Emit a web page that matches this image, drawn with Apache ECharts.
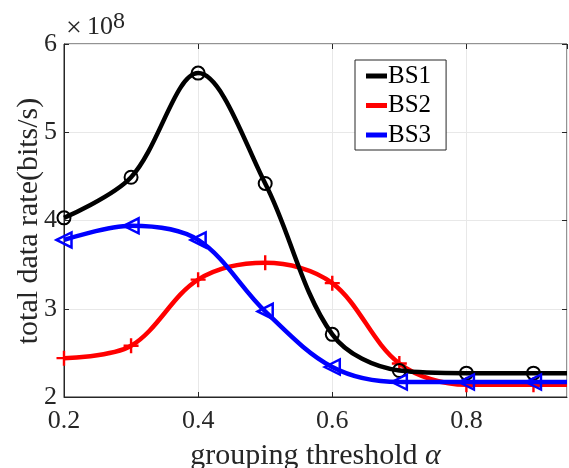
<!DOCTYPE html>
<html><head><meta charset="utf-8">
<script src="https://cdn.jsdelivr.net/npm/echarts@6/dist/echarts.min.js"></script>
<style>html,body{margin:0;padding:0;background:#fff}#c{width:569px;height:468px}</style>
</head><body><div id="c"></div>
<script>
const xs = [0.2, 0.3, 0.4, 0.5, 0.6, 0.7, 0.8, 0.9];
const bs1 = [4.03, 4.49, 5.67, 4.42, 2.71, 2.30, 2.27, 2.27];
const bs2 = [2.44, 2.58, 3.33, 3.52, 3.29, 2.38, 2.14, 2.14];
const bs3 = [3.78, 3.94, 3.78, 2.97, 2.34, 2.17, 2.17, 2.17];
const tailX = 0.95;
const tail1 = 2.27, tail2 = 2.14, tail3 = 2.17;
const names = ['BS1', 'BS2', 'BS3'];
const colors = ['#000000', '#ff0000', '#0000ff'];
const yName = 'total data rate(bits/s)';

const font = '"Liberation Serif", "DejaVu Serif", serif';
function mk(vals, tail) {
  const d = xs.map((x, i) => [x, vals[i]]);
  d.push({ value: [tailX, tail], symbol: 'none' });
  return d;
}
const plusPath = 'path://M4.2,0H5.8V4.2H10V5.8H5.8V10H4.2V5.8H0V4.2H4.2Z';
const tickStyle = { show: true, inside: true, length: 5, lineStyle: { color: '#262626' } };

const chart = echarts.init(document.getElementById('c'), null, { renderer: 'canvas' });
chart.setOption({
  animation: false,
  backgroundColor: '#fff',
  textStyle: { fontFamily: font },
  grid: { left: 64, right: 2, top: 44, bottom: 71, containLabel: false, outerBoundsMode: 'none',
    show: true, borderColor: '#262626', borderWidth: 1, backgroundColor: 'transparent' },
  xAxis: [{
    type: 'value', min: 0.2, max: 0.95, interval: 0.2,
    name: 'grouping threshold {a|α}', nameLocation: 'middle', nameGap: 44,
    nameTextStyle: { fontFamily: font, fontSize: 30, color: '#262626', rich: { a: { fontFamily: font, fontSize: 30, fontStyle: 'italic', color: '#262626' } } },
    axisLine: { show: true, lineStyle: { color: '#262626', width: 1 } },
    axisTick: tickStyle,
    axisLabel: { fontFamily: font, fontSize: 26, color: '#262626', margin: 11, showMaxLabel: false,
      formatter: v => (Math.abs(v * 5 - Math.round(v * 5)) < 1e-6 ? v.toFixed(1) : '') },
    splitLine: { show: true, lineStyle: { color: '#e8e8e8', width: 1 } }
  }, {
    type: 'value', min: 0.2, max: 0.95, interval: 0.2, position: 'top',
    axisLine: { show: false }, axisTick: tickStyle,
    axisLabel: { show: false }, splitLine: { show: false }
  }],
  yAxis: [{
    type: 'value', min: 2, max: 6, interval: 1,
    axisLine: { show: true, lineStyle: { color: '#262626', width: 1 } },
    axisTick: tickStyle,
    axisLabel: { fontFamily: font, fontSize: 26, color: '#262626', margin: 7 },
    splitLine: { show: true, lineStyle: { color: '#e8e8e8', width: 1 } }
  }, {
    type: 'value', min: 2, max: 6, interval: 1, position: 'right',
    axisLine: { show: false }, axisTick: tickStyle,
    axisLabel: { show: false }, splitLine: { show: false }
  }],
  legend: {
    left: 355, top: 60,
    orient: 'vertical',
    backgroundColor: '#fff', borderColor: '#262626', borderWidth: 1,
    padding: [3, 15, 2, 11], itemGap: 3.5,
    itemWidth: 21, itemHeight: 5, icon: 'rect',
    textStyle: { fontFamily: font, fontSize: 25, lineHeight: 26, color: '#000', padding: [0, 0, 0, -4] },
    data: names.map((n, i) => ({ name: n, itemStyle: { color: colors[i], borderWidth: 0 } }))
  },
  graphic: [{
    type: 'text', x: 29, y: 221, rotation: Math.PI / 2,
    style: { text: yName, fontFamily: font, fontSize: 30, fill: '#262626', align: 'center', verticalAlign: 'middle' }
  }, {
    type: 'text', left: 66, top: 15,
    style: { text: '×', fontFamily: font, fontSize: 28, fill: '#262626' }
  }, {
    type: 'text', left: 87, top: 14,
    style: { text: '10', fontFamily: font, fontSize: 26, fill: '#262626' }
  }, {
    type: 'text', left: 113, top: 10,
    style: { text: '8', fontFamily: font, fontSize: 24, fill: '#262626' }
  }],
  series: [{
    name: 'BS1', type: 'line', smooth: 0.34, data: mk(bs1, tail1),
    lineStyle: { color: colors[0], width: 4.5 },
    symbol: 'circle', symbolSize: 13,
    itemStyle: { color: 'rgba(255,255,255,0)', borderColor: colors[0], borderWidth: 2 }, z: 3
  }, {
    name: 'BS2', type: 'line', smooth: 0.34, data: mk(bs2, tail2),
    lineStyle: { color: colors[1], width: 4.5 },
    symbol: plusPath, symbolSize: 15,
    itemStyle: { color: colors[1], borderWidth: 0 }, z: 2
  }, {
    name: 'BS3', type: 'line', smooth: 0.34, data: mk(bs3, tail3),
    lineStyle: { color: colors[2], width: 4.5 },
    symbol: 'triangle', symbolRotate: 90, symbolSize: 15,
    itemStyle: { color: 'rgba(255,255,255,0)', borderColor: colors[2], borderWidth: 2.5 }, z: 4
  }]
});
</script></body></html>
